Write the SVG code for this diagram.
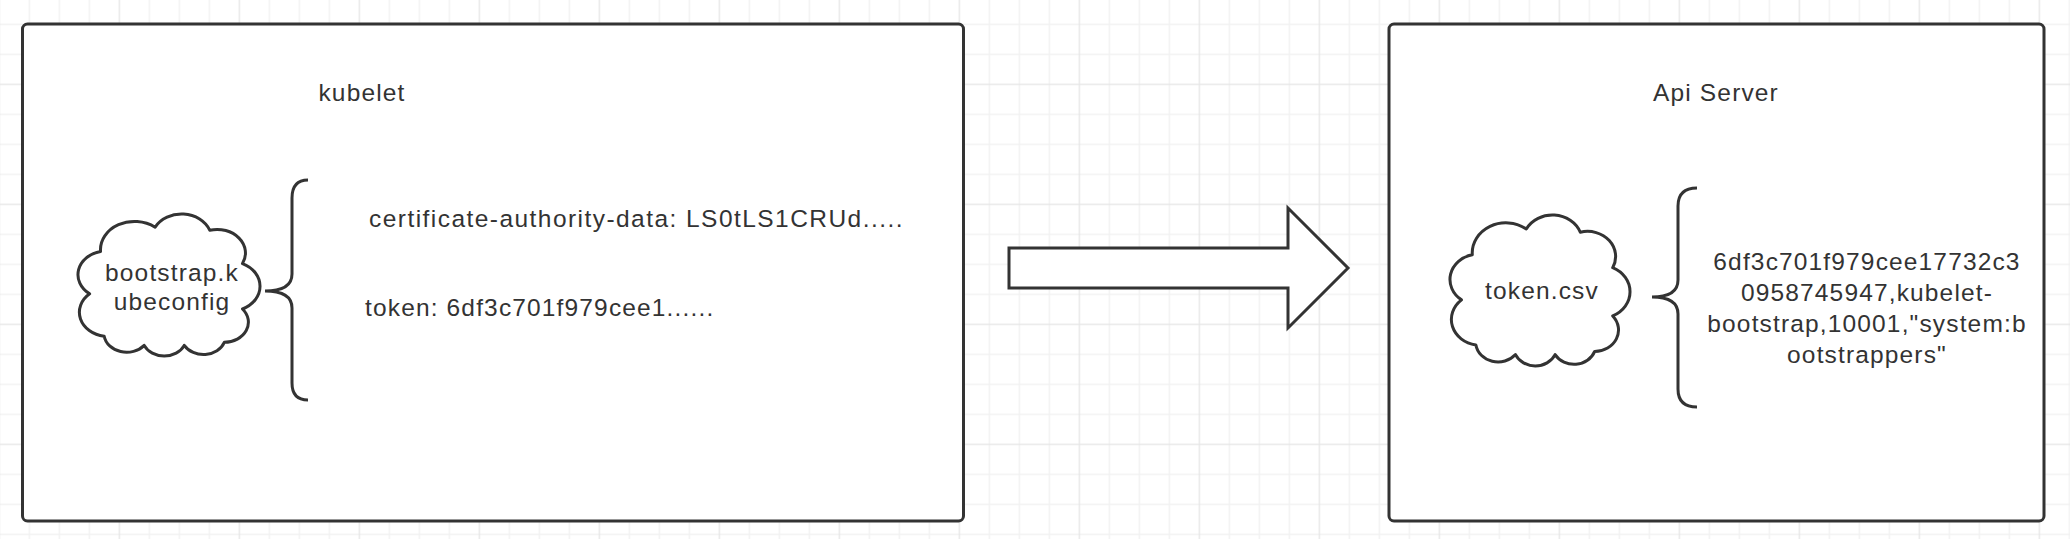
<svg xmlns="http://www.w3.org/2000/svg" width="2070" height="539" viewBox="0 0 2070 539">
<style>
.box{fill:#fff;stroke:#333;stroke-width:3}
.cloud{fill:#fff;stroke:#333;stroke-width:3;vector-effect:non-scaling-stroke;stroke-linejoin:round}
.brace{fill:none;stroke:#333;stroke-width:3;stroke-linecap:butt}
.arrow{fill:#fff;stroke:#333;stroke-width:3;stroke-linejoin:miter}
text{font-family:"Liberation Sans",Arial,sans-serif;font-size:24.5px;fill:#333;letter-spacing:1.15px}
.c{text-anchor:middle}
</style>
<defs>
<pattern id="grid" patternUnits="userSpaceOnUse" x="-1.35" y="-36.35" width="120" height="120">
<rect x="0" y="30" width="120" height="1.3" fill="#f1f1f1"/>
<rect x="0" y="60" width="120" height="1.3" fill="#f1f1f1"/>
<rect x="0" y="90" width="120" height="1.3" fill="#f1f1f1"/>
<rect x="30" y="0" width="1.3" height="120" fill="#f1f1f1"/>
<rect x="60" y="0" width="1.3" height="120" fill="#f1f1f1"/>
<rect x="90" y="0" width="1.3" height="120" fill="#f1f1f1"/>
<rect x="0" y="0" width="120" height="1.3" fill="#e6e6e6"/>
<rect x="0" y="0" width="1.3" height="120" fill="#e6e6e6"/>
</pattern>
</defs>
<rect width="2070" height="539" fill="#fff"/>
<rect width="2070" height="539" fill="url(#grid)"/>

<g id="kubelet">
<rect class="box" x="22.5" y="24" width="941" height="497" rx="5"/>
<text class="c" x="362" y="101">kubelet</text>
</g>

<g id="bootstrap-kubeconfig">
<path class="cloud" transform="translate(78.7,209) scale(1.82,1.515)" d="M12,28 A18.7,18.7 0 0 1 42,12 A16.5,16.5 0 0 1 72,14 A15.6,15.6 0 0 1 90,36 A16.5,16.5 0 0 1 90,66 A13.3,13.3 0 0 1 80,88 A12.2,12.2 0 0 1 58,90 A12.1,12.1 0 0 1 36,90 A12.5,12.5 0 0 1 14,84 A16,16 0 0 1 6,56 A15.7,15.7 0 0 1 12,28 Z"/>
<text class="c" x="172" y="281">bootstrap.k</text>
<text class="c" x="172" y="310">ubeconfig</text>
</g>

<g id="kubeconfig-brace">
<path class="brace" d="M308,180 Q292,180 292,198 L292,274 Q292,291 265,291 Q292,291 292,308 L292,383 Q292,400 308,400"/>
</g>

<g id="kubeconfig-fields">
<text x="369" y="227" style="letter-spacing:1.45px">certificate-authority-data: LS0tLS1CRUd.....</text>
<text x="365" y="316">token: 6df3c701f979cee1......</text>
</g>

<g id="api-server">
<rect class="box" x="1389" y="24" width="655" height="497" rx="5"/>
<text class="c" x="1716" y="101">Api Server</text>
</g>

<g id="token-csv">
<path class="cloud" transform="translate(1450.7,209.7) scale(1.80,1.61)" d="M12,28 A18.7,18.7 0 0 1 42,12 A16.5,16.5 0 0 1 72,14 A15.6,15.6 0 0 1 90,36 A16.5,16.5 0 0 1 90,66 A13.3,13.3 0 0 1 80,88 A12.2,12.2 0 0 1 58,90 A12.1,12.1 0 0 1 36,90 A12.5,12.5 0 0 1 14,84 A16,16 0 0 1 6,56 A15.7,15.7 0 0 1 12,28 Z"/>
<text class="c" x="1542" y="299">token.csv</text>
</g>

<g id="token-brace">
<path class="brace" d="M1697,188 Q1678,188 1678,206 L1678,280 Q1678,297 1652,297 Q1678,297 1678,314 L1678,389 Q1678,407 1697,407"/>
</g>

<g id="token-content">
<text class="c" x="1867" y="270">6df3c701f979cee17732c3</text>
<text class="c" x="1867" y="301">0958745947,kubelet-</text>
<text class="c" x="1867" y="332">bootstrap,10001,"system:b</text>
<text class="c" x="1867" y="363">ootstrappers"</text>
</g>

<g id="connectors">
<polygon class="arrow" points="1009,248 1288,248 1288,208 1348,268 1288,328 1288,288 1009,288"/>
</g>
</svg>
